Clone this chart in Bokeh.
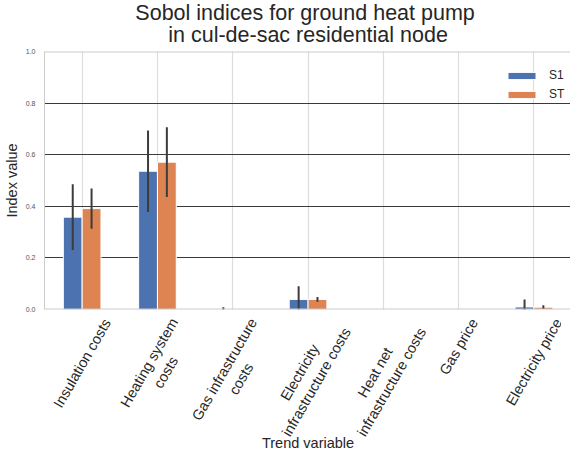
import math
from bokeh.plotting import figure
from bokeh.layouts import column
from bokeh.models import (ColumnDataSource, FixedTicker, NumeralTickFormatter, Range1d,
                          Legend, LegendItem, Span)
from bokeh.transform import dodge
from bokeh.core.properties import value
from bokeh.embed import file_html
from bokeh.resources import INLINE

# ---------------- data ----------------
categories = ["Insulation costs", "Heating system\ncosts", "Gas infrastructure\ncosts",
              "Electricity\ninfrastructure costs", "Heat net\ninfrastructure costs",
              "Gas price", "Electricity price"]
s1 = [0.358, 0.536, 0.0, 0.039, 0.0, 0.0, 0.010]
s1_err = [0.127, 0.158, 0.009, 0.051, 0.0, 0.0, 0.029]
st = [0.391, 0.571, 0.0, 0.039, 0.0, 0.0, 0.009]
st_err = [0.078, 0.135, 0.0, 0.009, 0.0, 0.0, 0.007]
y_ticks = [0.0, 0.2, 0.4, 0.6, 0.8, 1.0]
series_names = ["S1", "ST"]
title_text = "Sobol indices for  ground heat pump\nin cul-de-sac residential node"
x_label = "Trend variable"
y_label = "Index value"

# ---------------- style / layout ----------------
FONT = "Liberation Sans"
TEXT = "#262626"
C_S1 = "#4C72B0"
C_ST = "#DD8452"
BAR_W = 0.25
TICK_FS = 14.5
ANGLE = math.pi / 3
LEFT = 35          # left border (y axis area)
FW = 526           # frame width in px
PX_PER_CAT = 75.3
FH = 258           # frame height in px
TOP_H = 47         # title strip height
BOT_GAP = 5        # border below the frame (room for the 0.0 tick label)
LAB_H = 138        # tick-label strip height

# Helvetica/Arial advance widths (per 1000 em) to size rotated tick label blocks
W = {' ': 278, 'a': 556, 'b': 556, 'c': 500, 'd': 556, 'e': 556, 'f': 278, 'g': 556, 'h': 556,
     'i': 222, 'j': 222, 'k': 500, 'l': 222, 'm': 833, 'n': 556, 'o': 556, 'p': 556, 'q': 556,
     'r': 333, 's': 500, 't': 278, 'u': 556, 'v': 500, 'w': 722, 'x': 500, 'y': 500, 'z': 500,
     'E': 667, 'G': 778, 'H': 722, 'I': 278, 'S': 667, 'T': 611}


def label_drop(txt, fs=TICK_FS, pad=6.0):
    lines = txt.split("\n")
    w = max(sum(W.get(ch, 556) for ch in ln) for ln in lines) * fs / 1000.0
    h = len(lines) * 1.2 * fs
    bbox_h = math.sin(ANGLE) * w + math.cos(ANGLE) * h
    return -(pad + bbox_h / 2.0)


n = len(categories)
xs = list(range(n))
mid = (n - 1) / 2.0
x_range = Range1d(-0.5, -0.5 + FW / PX_PER_CAT)

src = ColumnDataSource(dict(
    x=xs, s1=s1, st=st,
    s1_lo=[v - e for v, e in zip(s1, s1_err)], s1_hi=[v + e for v, e in zip(s1, s1_err)],
    st_lo=[v - e for v, e in zip(st, st_err)], st_hi=[v + e for v, e in zip(st, st_err)],
))


def strip(height, y0, y1):
    f = figure(frame_width=FW, frame_height=height, x_range=x_range, y_range=Range1d(y0, y1),
               output_backend="svg", toolbar_location=None,
               x_axis_location=None, y_axis_location=None,
               min_border_left=LEFT, min_border_right=0, min_border_top=0, min_border_bottom=0)
    f.xgrid.visible = False
    f.ygrid.visible = False
    f.outline_line_color = None
    f.background_fill_color = "white"
    f.border_fill_color = "white"
    return f


# ---- title strip ----
p0 = strip(TOP_H, 0, TOP_H)
p0.text(x=[mid], y=[23.25], text=[title_text], text_align="center", text_baseline="middle",
        text_font_size="21.5px", text_line_height=0.9, text_color=TEXT, text_font=value(FONT))

# ---- main plot ----
p = figure(frame_width=FW, frame_height=FH, x_range=x_range,
           y_range=Range1d(y_ticks[0], y_ticks[-1]),
           output_backend="svg", toolbar_location=None, x_axis_location=None,
           min_border_left=LEFT, min_border_right=0, min_border_top=4, min_border_bottom=BOT_GAP)
p.outline_line_color = None
p.background_fill_color = "white"
p.border_fill_color = "white"

p.xgrid.ticker = FixedTicker(ticks=xs)
p.xgrid.grid_line_color = "#dddddd"
p.xgrid.grid_line_width = 1.2
p.ygrid.ticker = FixedTicker(ticks=y_ticks[1:-1])
p.ygrid.grid_line_color = "#3a3a3a"
p.ygrid.grid_line_width = 1.2

r1 = p.vbar(x=dodge("x", -BAR_W / 2, range=x_range), top="s1", width=BAR_W, source=src,
            fill_color=C_S1, line_color="white", line_width=1)
r2 = p.vbar(x=dodge("x", BAR_W / 2, range=x_range), top="st", width=BAR_W, source=src,
            fill_color=C_ST, line_color="white", line_width=1)

p.segment(x0=dodge("x", -BAR_W / 2, range=x_range), x1=dodge("x", -BAR_W / 2, range=x_range),
          y0="s1_lo", y1="s1_hi", source=src, line_color="#3c3c3c", line_width=2)
p.segment(x0=dodge("x", BAR_W / 2, range=x_range), x1=dodge("x", BAR_W / 2, range=x_range),
          y0="st_lo", y1="st_hi", source=src, line_color="#3c3c3c", line_width=2)

# top and bottom spines
p.add_layout(Span(location=y_ticks[-1], dimension="width", line_color="#cccccc", line_width=2))
p.add_layout(Span(location=y_ticks[0], dimension="width", line_color="#cccccc", line_width=2))

p.yaxis.ticker = FixedTicker(ticks=y_ticks)
p.yaxis.formatter = NumeralTickFormatter(format="0.0")
p.yaxis.major_label_text_font_size = "7px"
p.yaxis.major_label_text_color = "#555555"
p.yaxis.major_label_text_font = FONT
p.yaxis.major_tick_line_color = None
p.yaxis.minor_tick_line_color = None
p.yaxis.axis_line_color = "#cccccc"
p.yaxis.major_label_standoff = 3
p.yaxis.axis_label = y_label
p.yaxis.axis_label_text_font_size = "14.5px"
p.yaxis.axis_label_text_font_style = "normal"
p.yaxis.axis_label_text_color = TEXT
p.yaxis.axis_label_text_font = FONT
p.yaxis.axis_label_standoff = 3

legend = Legend(items=[LegendItem(label=series_names[0], renderers=[r1]),
                       LegendItem(label=series_names[1], renderers=[r2])],
                location=(460, 208), padding=0, margin=0, spacing=5,
                glyph_width=35, glyph_height=9, label_height=9, label_standoff=10,
                label_text_font_size="12px", label_text_font=FONT, label_text_color=TEXT,
                border_line_color=None, background_fill_alpha=0)
p.add_layout(legend)

# ---- tick-label strip (y in px below the x axis line) ----
p2 = strip(LAB_H, -(BOT_GAP + LAB_H), -BOT_GAP)
lab_src = ColumnDataSource(dict(x=xs, y=[label_drop(c) for c in categories], text=categories))
p2.text(x="x", y="y", text="text", source=lab_src, angle=ANGLE,
        text_align="center", text_baseline="middle",
        text_font_size=f"{TICK_FS}px", text_color=TEXT, text_font=value(FONT))
p2.text(x=[mid], y=[-133], text=[x_label], text_align="center", text_baseline="middle",
        text_font_size="14.5px", text_color=TEXT, text_font=value(FONT))

layout = column(p0, p, p2, spacing=0)
open("out.html", "w").write(file_html(layout, INLINE))
